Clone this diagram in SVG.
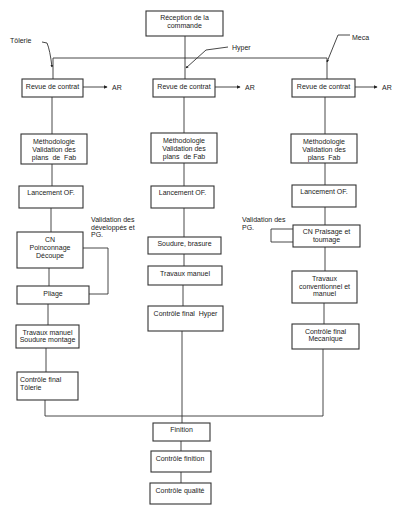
<svg xmlns="http://www.w3.org/2000/svg" width="405" height="513" viewBox="0 0 405 513">
<defs>
<marker id="ah" viewBox="0 0 6 6" refX="5" refY="3" markerWidth="4" markerHeight="4" orient="auto"><path d="M0,0 L6,3 L0,6 z" fill="#222"/></marker>
<marker id="sm" viewBox="0 0 6 6" refX="5" refY="3" markerWidth="3" markerHeight="3" orient="auto"><path d="M0,0 L6,3 L0,6 z" fill="#222"/></marker>
<style>
rect{fill:#fff;stroke:#333;stroke-width:1.1}
text{font-family:"Liberation Sans",Arial,sans-serif;font-size:7px;fill:#222}
.c{text-anchor:middle}
.ln{fill:none;stroke:#333;stroke-width:0.9}
</style>
</defs>
<rect x="0" y="0" width="405" height="513" style="fill:#fff;stroke:none"/>
<g id="connectors">
<path class="ln" d="M185,36 V58 M53,58 H327 M53,58 V79 M185,58 V79 M327,58 V79"/>
<path class="ln" d="M83,87 H107" marker-end="url(#ah)"/>
<path class="ln" d="M215,87 H240" marker-end="url(#ah)"/>
<path class="ln" d="M355,87 H377" marker-end="url(#ah)"/>
<path class="ln" d="M52,97 V134 M52,164 V186 M51,208 V232 M49,268 V286 M48,304 V325 M46,348 V372 M45,400 V416"/>
<path class="ln" d="M83,248 H108 V294 H89"/>
<path class="ln" d="M184,97 V133 M184,163 V186 M184,208 V237 M184,254 V266 M183,285 V306 M182,331 V423"/>
<path class="ln" d="M325,97 V134 M325,163 V185 M325,207 V225 M325,247 V271 M324,303 V324 M323,349 V416"/>
<path class="ln" d="M293,229 H271 V242 H293"/>
<path class="ln" d="M45,416 H323"/>
<path class="ln" d="M181,441 V451 M181,472 V483"/>
<path class="ln" d="M42,42 L47,43 Q50,50 52,67" marker-end="url(#sm)"/>
<path class="ln" d="M228,47 L206,50 L186,68" marker-end="url(#sm)"/>
<path class="ln" d="M350,35 L338,35 L327,62" marker-end="url(#sm)"/>
</g>
<g id="labels">
<text x="10" y="42.5">Tôlerie</text>
<text x="232" y="49.5">Hyper</text>
<text x="352" y="39.5">Meca</text>
<text x="112" y="90">AR</text>
<text x="245" y="90">AR</text>
<text x="382" y="90">AR</text>
<text x="91" y="221.5">Validation des</text>
<text x="91" y="229.5">développés et</text>
<text x="91" y="236.5">PG.</text>
<text x="242" y="222">Validation des</text>
<text x="242" y="229.5">PG.</text>
</g>
<g id="reception"><rect x="146" y="11" width="77" height="25"/><text class="c" x="184.5" y="19.5">Réception de la</text><text class="c" x="184.5" y="27.5">commande</text></g>
<g id="revue1"><rect x="22" y="79" width="61" height="18"/><text class="c" x="52.5" y="88.5">Revue de contrat</text></g>
<g id="revue2"><rect x="153" y="79" width="62" height="18"/><text class="c" x="184" y="88.5">Revue de contrat</text></g>
<g id="revue3"><rect x="292" y="79" width="63" height="18"/><text class="c" x="323.5" y="88.5">Revue de contrat</text></g>
<g id="metho1"><rect x="21" y="134" width="66" height="30"/><text class="c" x="54" y="143.5">Méthodologie</text><text class="c" x="54" y="151.5">Validation des</text><text class="c" x="54" y="159.5" xml:space="preserve">plans  de  Fab</text></g>
<g id="metho2"><rect x="151" y="133" width="66" height="30"/><text class="c" x="184" y="142.5">Méthodologie</text><text class="c" x="184" y="150.5">Validation des</text><text class="c" x="184" y="158.5" xml:space="preserve">plans  de Fab</text></g>
<g id="metho3"><rect x="291" y="134" width="66" height="29"/><text class="c" x="324" y="143.5">Méthodologie</text><text class="c" x="324" y="151.5">Validation des</text><text class="c" x="324" y="159.5" xml:space="preserve">plans  Fab</text></g>
<g id="lanc1"><rect x="19" y="186" width="64" height="22"/><text class="c" x="51" y="194.5">Lancement OF.</text></g>
<g id="lanc2"><rect x="151" y="186" width="63" height="22"/><text class="c" x="182.5" y="194.5">Lancement OF.</text></g>
<g id="lanc3"><rect x="292" y="185" width="64" height="22"/><text class="c" x="324" y="193.5">Lancement OF.</text></g>
<g id="cnpoin"><rect x="17" y="232" width="66" height="36"/><text class="c" x="50" y="241.5">CN</text><text class="c" x="50" y="249.5">Poinconnage</text><text class="c" x="50" y="258">Découpe</text></g>
<g id="pliage"><rect x="17" y="286" width="72" height="18"/><text class="c" x="53" y="295.5">Pliage</text></g>
<g id="travsoud"><rect x="16" y="325" width="63" height="23"/><text class="c" x="47.5" y="334.5">Travaux manuel</text><text class="c" x="47.5" y="342">Soudure montage</text></g>
<g id="cftol"><rect x="17" y="372" width="61" height="28"/><text x="20" y="381.5">Contrôle final</text><text x="20" y="389.5">Tôlerie</text></g>
<g id="soudure"><rect x="148" y="237" width="73" height="17"/><text class="c" x="184.5" y="245.5">Soudure, brasure</text></g>
<g id="travman"><rect x="148" y="266" width="74" height="19"/><text class="c" x="185" y="275.5">Travaux manuel</text></g>
<g id="cfhyper"><rect x="148" y="306" width="75" height="25"/><text class="c" x="185.5" y="315.5" xml:space="preserve">Contrôle final  Hyper</text></g>
<g id="cnprais"><rect x="293" y="225" width="67" height="22"/><text class="c" x="326.5" y="233.5">CN Praisage et</text><text class="c" x="326.5" y="241.5">toumage</text></g>
<g id="travconv"><rect x="292" y="271" width="65" height="32"/><text class="c" x="324.5" y="280.5">Travaux</text><text class="c" x="324.5" y="288.5">conventionnel et</text><text class="c" x="324.5" y="296">manuel</text></g>
<g id="cfmeca"><rect x="292" y="324" width="67" height="25"/><text class="c" x="325.5" y="333.5">Contrôle final</text><text class="c" x="325.5" y="341">Mecanique</text></g>
<g id="finition"><rect x="153" y="423" width="57" height="18"/><text class="c" x="181.5" y="431.5">Finition</text></g>
<g id="ctrlfin"><rect x="151" y="451" width="60" height="21"/><text class="c" x="180" y="460.5">Contrôle finition</text></g>
<g id="ctrlqual"><rect x="150" y="483" width="61" height="21"/><text class="c" x="180" y="492.5">Contrôle qualité</text></g>
</svg>
